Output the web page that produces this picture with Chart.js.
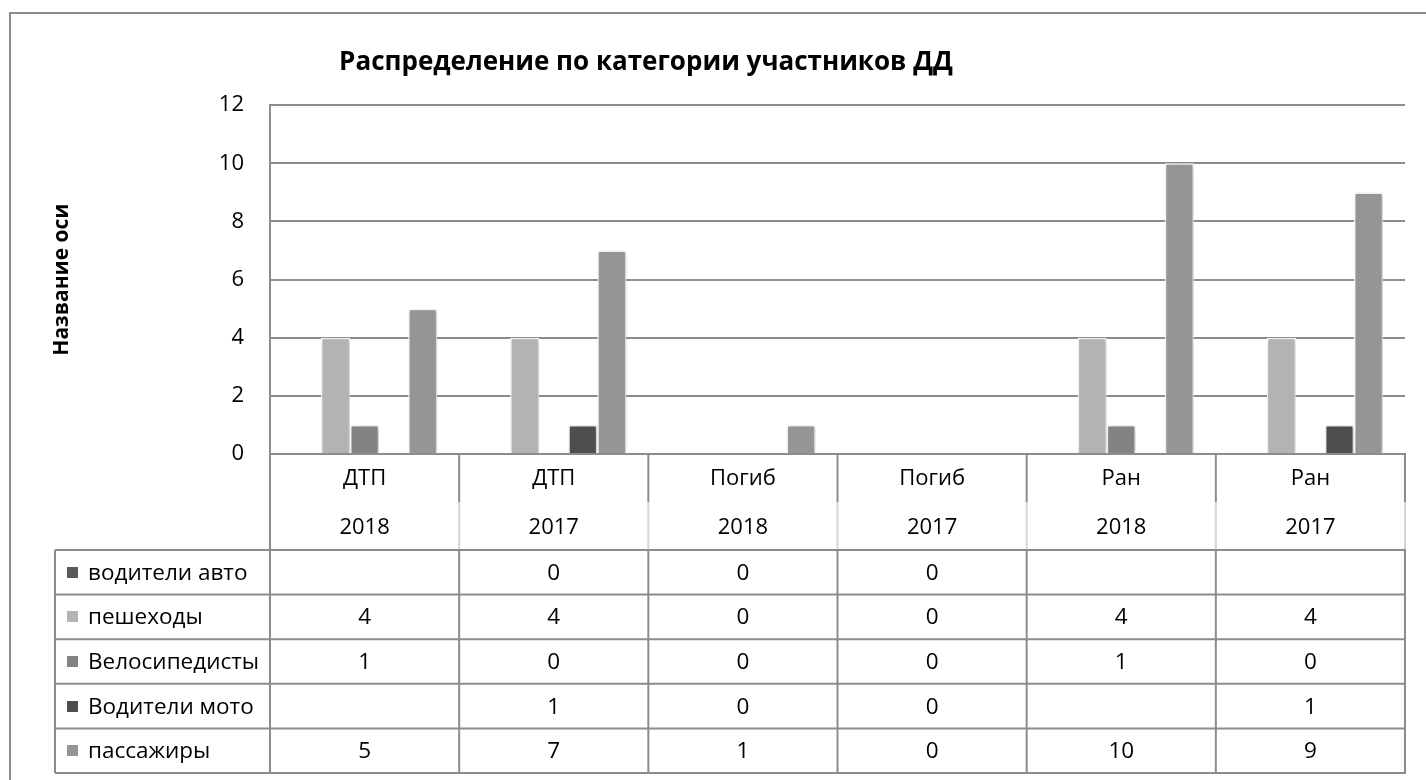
<!DOCTYPE html>
<html>
<head>
<meta charset="utf-8">
<script src="https://cdn.jsdelivr.net/npm/chart.js@4.4.1/dist/chart.umd.min.js"></script>
<style>
  html, body { margin: 0; padding: 0; background: #ffffff; }
  #wrap { width: 1426px; height: 780px; position: relative; }
</style>
</head>
<body>
<div id="wrap"><canvas id="c" width="1426" height="780"></canvas></div>
<script>
// ---- data ----
const groups = ["ДТП", "ДТП", "Погиб", "Погиб", "Ран", "Ран"];
const years = ["2018", "2017", "2018", "2017", "2018", "2017"];
const seriesNames = ["водители авто", "пешеходы", "Велосипедисты", "Водители мото", "пассажиры"];
const vodAvto = [null, 0, 0, 0, null, null];
const peshehody = [4, 4, 0, 0, 4, 4];
const velosipedisty = [1, 0, 0, 0, 1, 0];
const vodMoto = [null, 1, 0, 0, null, 1];
const passazhiry = [5, 7, 1, 0, 10, 9];
const yMin = 0, yMax = 12, yStep = 2;
const chartTitle = "Распределение по категории участников ДД";
const yAxisTitle = "Название оси";

// ---- styling ----
const seriesColors = ["#5a5a5a", "#b3b3b3", "#838383", "#4e4e4e", "#959595"];
const lineColor = "#8c8c8c";
const FONT = "'Open Sans', 'Noto Sans', sans-serif";

const labels = groups.map((g, i) => [g, years[i]]);
const seriesData = [vodAvto, peshehody, velosipedisty, vodMoto, passazhiry];

const HEADER_H = 96;      // category label block under the axis
const TABLE_LEFT = 55;
const TABLE_BOTTOM = 773;

const shadowPlugin = {
  id: 'barShadow',
  beforeDatasetsDraw(chart) {
    const ctx = chart.ctx;
    ctx.save();
    ctx.shadowColor = 'rgba(0,0,0,0.28)';
    ctx.shadowBlur = 4;
    ctx.shadowOffsetX = 1;
    ctx.shadowOffsetY = 1;
  },
  afterDatasetsDraw(chart) {
    chart.ctx.restore();
  }
};

const framePlugin = {
  id: 'frame',
  beforeDraw(chart) {
    const ctx = chart.ctx;
    ctx.save();
    ctx.strokeStyle = lineColor;
    ctx.lineWidth = 2;
    ctx.beginPath();
    ctx.moveTo(10, 780);
    ctx.lineTo(10, 13);
    ctx.lineTo(1426, 13);
    ctx.stroke();
    ctx.restore();
  }
};

const tablePlugin = {
  id: 'dataTable',
  afterDraw(chart) {
    const ctx = chart.ctx;
    const xs = chart.scales.x;
    const area = chart.chartArea;
    const n = labels.length;
    const step = (area.right - area.left) / n;
    const bounds = [];
    for (let i = 0; i <= n; i++) {
      if (i < n) bounds.push(xs.getPixelForTick(i) - step / 2);
      else bounds.push(xs.getPixelForTick(n - 1) + step / 2);
    }
    const headTop = area.bottom;
    const tableTop = area.bottom + HEADER_H;
    const rows = seriesNames.length;
    const rowH = (TABLE_BOTTOM - tableTop) / rows;

    ctx.save();
    ctx.lineWidth = 2;
    bounds.forEach((bx, i) => {
      ctx.strokeStyle = lineColor;
      ctx.beginPath();
      if (i === 0) {
        ctx.moveTo(bx, headTop); ctx.lineTo(bx, TABLE_BOTTOM);
        ctx.stroke();
      } else {
        ctx.moveTo(bx, headTop); ctx.lineTo(bx, headTop + HEADER_H / 2);
        ctx.stroke();
        ctx.strokeStyle = "#d6d6d6";
        ctx.beginPath();
        ctx.moveTo(bx, headTop + HEADER_H / 2); ctx.lineTo(bx, tableTop);
        ctx.stroke();
        ctx.strokeStyle = lineColor;
        ctx.beginPath();
        ctx.moveTo(bx, tableTop); ctx.lineTo(bx, TABLE_BOTTOM);
        ctx.stroke();
      }
    });
    ctx.strokeStyle = lineColor;
    for (let r = 0; r <= rows; r++) {
      const y = tableTop + r * rowH;
      ctx.beginPath();
      ctx.moveTo(TABLE_LEFT, y); ctx.lineTo(bounds[n] + 1, y);
      ctx.stroke();
    }
    ctx.beginPath();
    ctx.moveTo(TABLE_LEFT, tableTop); ctx.lineTo(TABLE_LEFT, TABLE_BOTTOM);
    ctx.stroke();

    ctx.font = "22.5px " + FONT;
    ctx.fillStyle = "#000";
    ctx.textBaseline = "middle";
    for (let r = 0; r < rows; r++) {
      const yc = tableTop + r * rowH + rowH / 2;
      ctx.fillStyle = seriesColors[r];
      ctx.fillRect(67, Math.round(yc - 5.5), 11, 11);
      ctx.fillStyle = "#000";
      ctx.textAlign = "left";
      ctx.fillText(seriesNames[r], 88, yc + 1);
      ctx.textAlign = "center";
      seriesData[r].forEach((v, i) => {
        if (v === null || v === undefined) return;
        ctx.fillText(String(v), xs.getPixelForTick(i), yc + 1);
      });
    }
    ctx.restore();
  }
};

const datasets = seriesNames.map((name, i) => ({
  label: name,
  data: seriesData[i],
  backgroundColor: seriesColors[i],
  borderColor: "#ffffff",
  borderWidth: 1.5,
  borderSkipped: 'bottom',
  categoryPercentage: 0.768,
  barPercentage: 1.0
}));

Chart.defaults.font.family = FONT;
Chart.defaults.font.size = 22;
Chart.defaults.color = "#000";

new Chart(document.getElementById('c'), {
  type: 'bar',
  data: { labels: labels, datasets: datasets },
  plugins: [framePlugin, shadowPlugin, tablePlugin],
  options: {
    responsive: false,
    animation: false,
    layout: { padding: { left: -113, right: 21, top: 10, bottom: 230 } },
    plugins: {
      legend: { display: false },
      tooltip: { enabled: false },
      title: {
        display: true,
        text: chartTitle,
        color: "#000",
        font: { size: 26, weight: 'bold', family: FONT, lineHeight: 1.2 },
        padding: { top: 37, bottom: 27 },
        fullSize: true
      }
    },
    scales: {
      x: {
        grid: { display: false, drawTicks: false },
        border: { display: true, color: lineColor, width: 2 },
        ticks: { padding: 0, color: "#000", maxRotation: 0, autoSkip: false,
                 font: { size: 22, lineHeight: 49 / 22 } },
        afterFit(scale) { scale.height = HEADER_H; }
      },
      y: {
        min: yMin, max: yMax,
        ticks: { stepSize: yStep, padding: 26, color: "#000", font: { size: 22 } },
        grid: { color: lineColor, lineWidth: 2, drawTicks: false },
        border: { display: true, color: lineColor, width: 2 },
        title: {
          display: true, text: yAxisTitle, color: "#000",
          font: { size: 21, weight: 'bold', lineHeight: 1.2 },
          padding: { top: 162 }
        },
        afterFit(scale) { scale.width = 383; }
      }
    }
  }
});
</script>
</body>
</html>
